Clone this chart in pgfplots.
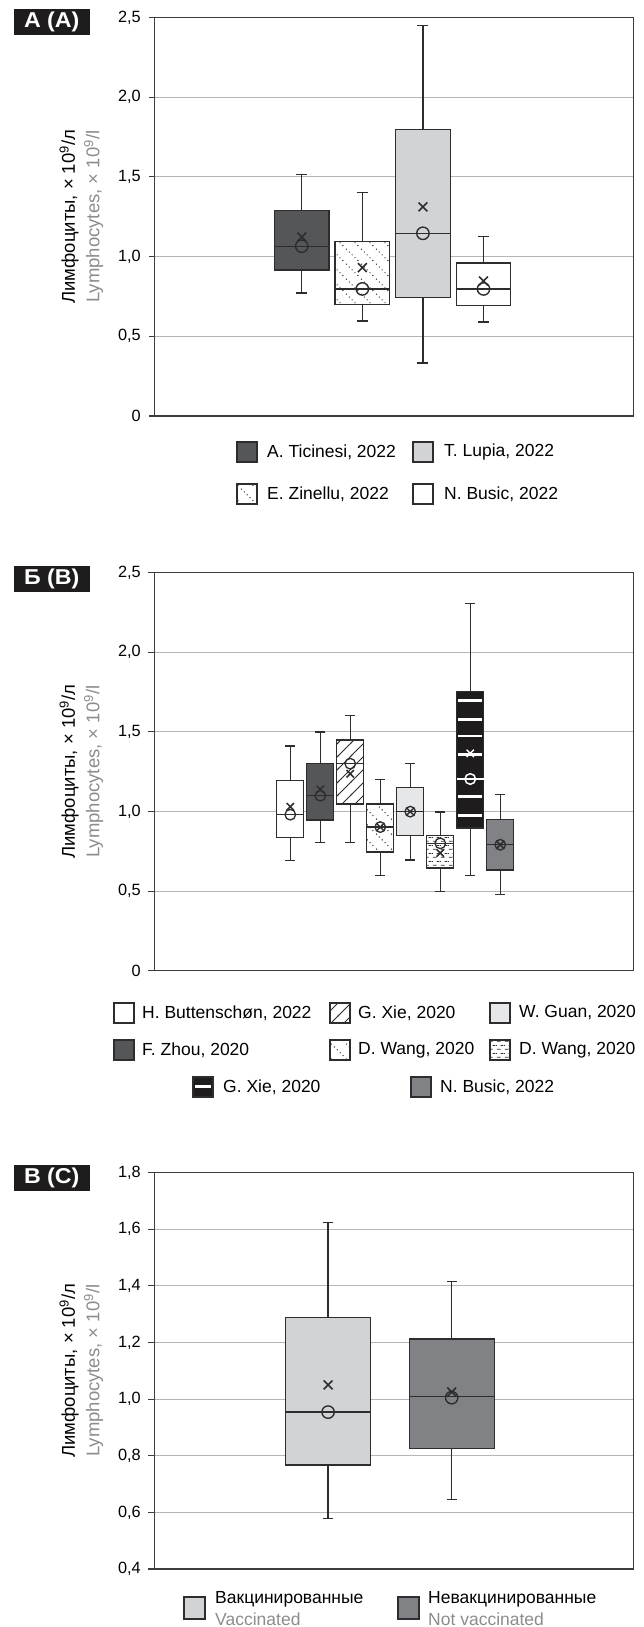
\documentclass[border=0pt]{standalone}
\usepackage{fontspec}
\setmainfont{Liberation Sans}
\newfontfamily\lblfam[FakeStretch=1.08]{Liberation Sans}
\usepackage{pgfplots}
\pgfplotsset{compat=1.18}
\usepgfplotslibrary{statistics}
\usetikzlibrary{patterns}

\definecolor{frm}{RGB}{60,60,62}
\definecolor{gridc}{RGB}{182,182,184}
\definecolor{ln}{RGB}{45,45,47}
\definecolor{dk}{RGB}{85,86,88}
\definecolor{lt}{RGB}{209,211,212}
\definecolor{vlt}{RGB}{230,231,232}
\definecolor{md}{RGB}{128,130,133}
\definecolor{blk}{RGB}{30,28,29}
\definecolor{engray}{RGB}{140,140,142}

\pgfdeclarepatternformonly{dotdiag}{\pgfqpoint{0pt}{0pt}}{\pgfqpoint{15pt}{15pt}}{\pgfqpoint{15pt}{15pt}}{%
  \pgfpathcircle{\pgfqpoint{1.5pt}{13.5pt}}{0.75pt}%
  \pgfpathcircle{\pgfqpoint{4.5pt}{10.5pt}}{0.75pt}%
  \pgfpathcircle{\pgfqpoint{7.5pt}{7.5pt}}{0.75pt}%
  \pgfpathcircle{\pgfqpoint{10.5pt}{4.5pt}}{0.75pt}%
  \pgfpathcircle{\pgfqpoint{13.5pt}{1.5pt}}{0.75pt}%
  \pgfusepath{fill}}
\pgfdeclarepatternformonly{hatchne}{\pgfqpoint{-1pt}{-1pt}}{\pgfqpoint{14pt}{14pt}}{\pgfqpoint{13pt}{13pt}}{%
  \pgfsetlinewidth{0.9pt}%
  \pgfpathmoveto{\pgfqpoint{-1pt}{-1pt}}\pgfpathlineto{\pgfqpoint{14pt}{14pt}}%
  \pgfusepath{stroke}}
\pgfdeclarepatternformonly{dashh}{\pgfqpoint{0pt}{0pt}}{\pgfqpoint{8pt}{8pt}}{\pgfqpoint{8pt}{8pt}}{%
  \pgfsetlinewidth{0.8pt}%
  \pgfpathmoveto{\pgfqpoint{1pt}{2pt}}\pgfpathlineto{\pgfqpoint{5pt}{2pt}}%
  \pgfpathmoveto{\pgfqpoint{5pt}{6pt}}\pgfpathlineto{\pgfqpoint{8pt}{6pt}}%
  \pgfpathmoveto{\pgfqpoint{0pt}{6pt}}\pgfpathlineto{\pgfqpoint{1pt}{6pt}}%
  \pgfusepath{stroke}}

\newcommand\tickfont{\fontsize{16.3pt}{18pt}\selectfont}
\newcommand\labfont{\fontsize{18.5pt}{24.5pt}\selectfont}
\newcommand\lgfont{\fontsize{17.5pt}{20pt}\selectfont}
\newcommand\pfont{\lblfam\bfseries\fontsize{21.5pt}{24pt}\selectfont}

\pgfplotsset{
  panel/.style={scale only axis, width=479pt, anchor=south west,
    axis line style={draw=frm, line width=1.3pt},
    xtick=\empty, ytick pos=left, tick align=outside, major tick length=6pt,
    tick style={draw=frm, line width=1.1pt},
    ymajorgrids, grid style={draw=gridc, line width=1.1pt},
    yticklabel style={font=\tickfont, inner sep=0pt, xshift=-7.5pt},
    ylabel style={at={(axis description cs:-0.1065,0.5)}, anchor=south, inner sep=0pt, align=center, font=\labfont},
    ylabel={Лимфоциты, × 10\textsuperscript{9}/л\\\textcolor{engray}{Lymphocytes, × 10\textsuperscript{9}/l}},
    boxplot/draw direction=y,
  },
  bx/.style={draw=ln, line width=1.2pt, solid, boxplot/draw direction=y, boxplot/every median/.style={draw=ln, line width=1.3pt}},
  pat/.style={bx, fill=white, boxplot/every box/.style={postaction={pattern=#1, pattern color=ln}}},
  circA/.style={only marks, mark=o, mark size=6.2pt, mark options={draw=ln, fill=#1, line width=1.4pt}},
  crsA/.style={only marks, mark=x, mark size=6.2pt, mark options={draw=ln, line width=1.6pt}},
  circB/.style={only marks, mark=o, mark size=5.3pt, mark options={draw=ln, fill=#1, line width=1.3pt}},
  crsB/.style={only marks, mark=x, mark size=5.2pt, mark options={draw=ln, line width=1.5pt}},
}

\newcommand{\sw}[3]{\draw[draw=ln, line width=1.1pt, #3] (#1,#2-10) rectangle ++(20,20);}
\newcommand{\lt}[3]{\node[anchor=west, inner sep=0pt, font=\lgfont] at (#1,#2) {#3};}

\begin{document}
\begin{tikzpicture}[x=1pt,y=1pt]
\path[use as bounding box] (0,0) rectangle (643,1627);

%================ Panel A
\begin{axis}[panel, at={(154.5pt,1211pt)}, height=398.5pt,
  xmin=-1.43, xmax=6.475, ymin=0, ymax=2.5,
  ytick={0,0.5,1,1.5,2,2.5}, yticklabels={0,{0,5},{1,0},{1,5},{2,0},{2,5}}]
\addplot[bx, fill=dk, boxplot prepared={draw direction=y, draw position=1, lower whisker=0.772, lower quartile=0.916, median=1.065, upper quartile=1.291, upper whisker=1.513, box extend=0.9, whisker extend=0.18}] coordinates {};
\addplot[pat=dotdiag, boxplot prepared={draw direction=y, draw position=2, lower whisker=0.596, lower quartile=0.697, median=0.797, upper quartile=1.096, upper whisker=1.400, box extend=0.9, whisker extend=0.18}] coordinates {};
\addplot[bx, fill=lt, boxplot prepared={draw direction=y, draw position=3, lower whisker=0.333, lower quartile=0.741, median=1.146, upper quartile=1.799, upper whisker=2.448, box extend=0.9, whisker extend=0.18}] coordinates {};
\addplot[bx, fill=white, boxplot prepared={draw direction=y, draw position=4, lower whisker=0.590, lower quartile=0.692, median=0.797, upper quartile=0.960, upper whisker=1.128, box extend=0.9, whisker extend=0.18}] coordinates {};
\addplot[circA=dk] coordinates {(1,1.065)};
\addplot[circA=white] coordinates {(2,0.797)};
\addplot[circA=lt] coordinates {(3,1.146)};
\addplot[circA=white] coordinates {(4,0.797)};
\addplot[crsA] coordinates {(1,1.123) (2,0.931) (3,1.312) (4,0.847)};
\end{axis}

%================ Panel B
\begin{axis}[panel, at={(154.5pt,656.3pt)}, height=398pt,
  xmin=-3.527, xmax=12.443, ymin=0, ymax=2.5,
  ytick={0,0.5,1,1.5,2,2.5}, yticklabels={0,{0,5},{1,0},{1,5},{2,0},{2,5}}]
\addplot[bx, fill=white, boxplot prepared={draw direction=y, draw position=1, lower whisker=0.691, lower quartile=0.835, median=0.980, upper quartile=1.196, upper whisker=1.411, box extend=0.9, whisker extend=0.33}] coordinates {};
\addplot[bx, fill=dk, boxplot prepared={draw direction=y, draw position=2, lower whisker=0.804, lower quartile=0.946, median=1.099, upper quartile=1.300, upper whisker=1.499, box extend=0.9, whisker extend=0.33}] coordinates {};
\addplot[pat=hatchne, boxplot prepared={draw direction=y, draw position=3, lower whisker=0.804, lower quartile=1.047, median=1.300, upper quartile=1.449, upper whisker=1.604, box extend=0.9, whisker extend=0.33}] coordinates {};
\addplot[pat=dotdiag, boxplot prepared={draw direction=y, draw position=4, lower whisker=0.597, lower quartile=0.745, median=0.902, upper quartile=1.047, upper whisker=1.200, box extend=0.9, whisker extend=0.33}] coordinates {};
\addplot[bx, fill=vlt, boxplot prepared={draw direction=y, draw position=5, lower whisker=0.695, lower quartile=0.848, median=0.999, upper quartile=1.149, upper whisker=1.300, box extend=0.9, whisker extend=0.33}] coordinates {};
\addplot[pat=dashh, boxplot prepared={draw direction=y, draw position=6, lower whisker=0.496, lower quartile=0.645, median=0.800, upper quartile=0.848, upper whisker=0.997, box extend=0.9, whisker extend=0.33}] coordinates {};
\addplot[bx, fill=blk, boxplot/every median/.style={draw=white, line width=2.6pt}, boxplot prepared={draw direction=y, draw position=7, lower whisker=0.597, lower quartile=0.896, median=1.204, upper quartile=1.753, upper whisker=2.307, box extend=0.9, whisker extend=0.33}] coordinates {};
\addplot[bx, fill=md, boxplot prepared={draw direction=y, draw position=8, lower whisker=0.477, lower quartile=0.632, median=0.791, upper quartile=0.951, upper whisker=1.108, box extend=0.9, whisker extend=0.33}] coordinates {};
% white stripes of the black box
\addplot[white, line width=2.8pt] coordinates {(6.6,1.695) (7.4,1.695)};
\addplot[white, line width=2.8pt] coordinates {(6.6,1.577) (7.4,1.577)};
\addplot[white, line width=2.8pt] coordinates {(6.6,1.474) (7.4,1.474)};
\addplot[white, line width=2.8pt] coordinates {(6.6,1.359) (7.4,1.359)};
\addplot[white, line width=2.8pt] coordinates {(6.6,1.096) (7.4,1.096)};
\addplot[white, line width=2.8pt] coordinates {(6.6,0.976) (7.4,0.976)};
\addplot[circB=white] coordinates {(1,0.980)};
\addplot[circB=dk] coordinates {(2,1.099)};
\addplot[circB=white] coordinates {(3,1.300) (4,0.902)};
\addplot[circB=vlt] coordinates {(5,0.999)};
\addplot[circB=white] coordinates {(6,0.800)};
\addplot[only marks, mark=o, mark size=5.3pt, mark options={draw=white, fill=blk, line width=1.5pt}] coordinates {(7,1.204)};
\addplot[circB=md] coordinates {(8,0.791)};
\addplot[crsB] coordinates {(1,1.030) (2,1.139) (3,1.237) (4,0.902) (5,0.999) (6,0.739) (8,0.791)};
\addplot[only marks, mark=x, mark size=5.2pt, mark options={draw=white, line width=1.5pt}] coordinates {(7,1.365)};
\end{axis}

%================ Panel C
\begin{axis}[panel, at={(154.5pt,58pt)}, height=396.5pt,
  xmin=-0.4045, xmax=3.471, ymin=0.4, ymax=1.8,
  ytick={0.4,0.6,0.8,1,1.2,1.4,1.6,1.8}, yticklabels={{0,4},{0,6},{0,8},{1,0},{1,2},{1,4},{1,6},{1,8}}]
\addplot[bx, fill=lt, boxplot prepared={draw direction=y, draw position=1, lower whisker=0.577, lower quartile=0.767, median=0.954, upper quartile=1.288, upper whisker=1.6235, box extend=0.688, whisker extend=0.08}] coordinates {};
\addplot[bx, fill=md, boxplot prepared={draw direction=y, draw position=2, lower whisker=0.646, lower quartile=0.826, median=1.008, upper quartile=1.212, upper whisker=1.414, box extend=0.688, whisker extend=0.08}] coordinates {};
\addplot[circA=lt] coordinates {(1,0.954)};
\addplot[circA=md] coordinates {(2,1.005)};
\addplot[crsA] coordinates {(1,1.05) (2,1.025)};
\end{axis}

%================ Panel labels
\node[fill=blk, text=white, font=\pfont, minimum width=76pt, minimum height=26pt, inner sep=0pt] at (51.75,1605) {А (A)};
\node[fill=blk, text=white, font=\pfont, minimum width=76pt, minimum height=26pt, inner sep=0pt] at (51.75,1048) {Б (B)};
\node[fill=blk, text=white, font=\pfont, minimum width=76pt, minimum height=26pt, inner sep=0pt] at (51.75,449) {В (C)};

%================ Legend A
\sw{237}{1175}{fill=dk}\lt{267}{1175}{A. Ticinesi, 2022}
\sw{413}{1175}{fill=lt}\lt{444}{1175}{T. Lupia, 2022}
\sw{237}{1133}{fill=white, postaction={pattern=dotdiag, pattern color=ln}}\lt{267}{1133}{E. Zinellu, 2022}
\sw{413}{1133}{fill=white}\lt{444}{1133}{N. Busic, 2022}

%================ Legend B
\sw{114}{614}{fill=white}\lt{142}{614}{H. Buttenschøn, 2022}
\sw{330}{614}{fill=white, postaction={pattern=hatchne, pattern color=ln}}\lt{358}{614}{G. Xie, 2020}
\sw{490}{614}{fill=vlt}\lt{519}{614}{W. Guan, 2020}
\sw{114}{577}{fill=dk}\lt{142}{577}{F. Zhou, 2020}
\sw{330}{577}{fill=white, postaction={pattern=dotdiag, pattern color=ln}}\lt{358}{577}{D. Wang, 2020}
\sw{490}{577}{fill=white, postaction={pattern=dashh, pattern color=ln}}\lt{519}{577}{D. Wang, 2020}
\sw{193}{540}{fill=blk}\draw[white, line width=3pt] (195,540) -- (211,540);\lt{223}{540}{G. Xie, 2020}
\sw{411}{540}{fill=md}\lt{440}{540}{N. Busic, 2022}

%================ Legend C
\draw[draw=ln, line width=1.1pt, fill=lt] (184,8) rectangle ++(21,22);
\node[anchor=base west, inner sep=0pt, font=\lgfont] at (215,23.7) {Вакцинированные};
\node[anchor=base west, inner sep=0pt, font=\lgfont, text=engray] at (215,1.5) {Vaccinated};
\draw[draw=ln, line width=1.1pt, fill=md] (398,8) rectangle ++(21,22);
\node[anchor=base west, inner sep=0pt, font=\lgfont] at (428,23.7) {Невакцинированные};
\node[anchor=base west, inner sep=0pt, font=\lgfont, text=engray] at (428,1.5) {Not vaccinated};
\end{tikzpicture}
\end{document}
